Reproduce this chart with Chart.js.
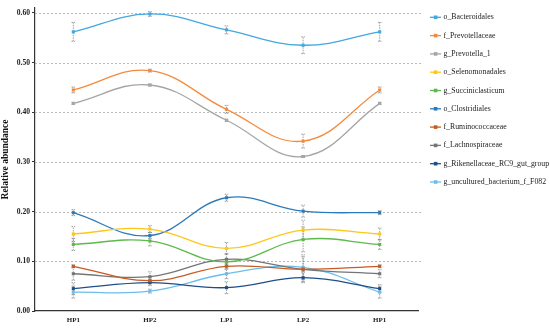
<!DOCTYPE html>
<html>
<head>
<meta charset="utf-8">
<script src="https://cdn.jsdelivr.net/npm/chart.js@4.4.1/dist/chart.umd.min.js"></script>
<style>
html,body{margin:0;padding:0;background:#fff;}
#wrap{width:550px;height:328px;position:relative;}
</style>
</head>
<body>
<div id="wrap"><canvas id="c"></canvas></div>
<script>
const categories = ['HP1', 'HP2', 'LP1', 'LP2', 'HP1'];
const seriesNames = ['o_Bacteroidales', 'f_Prevotellaceae', 'g_Prevotella_1', 'o_Selenomonadales', 'g_Succiniclasticum', 'o_Clostridiales', 'f_Ruminococcaceae', 'f_Lachnospiraceae', 'g_Rikenellaceae_RC9_gut_group', 'g_uncultured_bacterium_f_F082'];
const seriesColors = ['#41A8E0', '#F68A3C', '#A6A6A6', '#FFC61A', '#5DB94B', '#2B7BBA', '#C75B21', '#757575', '#1F4E89', '#6DBDEB'];

const bacteroidales = [0.562, 0.598, 0.566, 0.535, 0.562];
const prevotellaceae = [0.445, 0.484, 0.406, 0.342, 0.445];
const prevotella1 = [0.418, 0.455, 0.384, 0.311, 0.418];
const selenomonadales = [0.155, 0.165, 0.126, 0.163, 0.155];
const succiniclasticum = [0.134, 0.141, 0.099, 0.144, 0.134];
const clostridiales = [0.198, 0.152, 0.228, 0.201, 0.198];
const ruminococcaceae = [0.090, 0.061, 0.090, 0.084, 0.090];
const lachnospiraceae = [0.075, 0.069, 0.104, 0.084, 0.075];
const rikenellaceaeRC9 = [0.045, 0.057, 0.047, 0.067, 0.045];
const ffo82 = [0.038, 0.040, 0.075, 0.088, 0.038];

const errBacteroidales = [0.019, 0.005, 0.008, 0.017, 0.019];
const errPrevotellaceae = [0.006, 0.003, 0.008, 0.014, 0.006];
const errPrevotella1 = [0.002, 0.002, 0.002, 0.002, 0.002];
const errSelenomonadales = [0.015, 0.007, 0.012, 0.020, 0.012];
const errSucciniclasticum = [0.012, 0.010, 0.006, 0.025, 0.010];
const errClostridiales = [0.006, 0.006, 0.007, 0.012, 0.004];
const errRuminococcaceae = [0.003, 0.006, 0.006, 0.004, 0.003];
const errLachnospiraceae = [0.013, 0.010, 0.012, 0.025, 0.008];
const errRikenellaceaeRC9 = [0.012, 0.006, 0.012, 0.010, 0.008];
const errF082 = [0.012, 0.004, 0.010, 0.025, 0.012];

const yTicks = [0.0, 0.1, 0.2, 0.3, 0.4, 0.5, 0.6];

const allValues = [bacteroidales, prevotellaceae, prevotella1, selenomonadales, succiniclasticum, clostridiales, ruminococcaceae, lachnospiraceae, rikenellaceaeRC9, ffo82];
const allErrors = [errBacteroidales, errPrevotellaceae, errPrevotella1, errSelenomonadales, errSucciniclasticum, errClostridiales, errRuminococcaceae, errLachnospiraceae, errRikenellaceaeRC9, errF082];

const datasets = seriesNames.map((n, i) => ({
  label: n,
  data: allValues[i],
  errors: allErrors[i],
  borderColor: seriesColors[i],
  backgroundColor: seriesColors[i],
  borderWidth: 1.3,
  pointStyle: 'rect',
  pointRadius: 2.2,
  pointBorderWidth: 0,
  tension: 0.4,
  fill: false
}));

const errorBarPlugin = {
  id: 'errorBars',
  beforeDatasetsDraw(chart) {
    const ctx = chart.ctx;
    const xs = chart.scales.x, ys = chart.scales.y;
    ctx.save();
    ctx.strokeStyle = 'rgba(110,110,110,0.75)';
    ctx.lineWidth = 0.9;
    ctx.setLineDash([1.5, 1]);
    chart.data.datasets.forEach(ds => {
      ds.data.forEach((v, j) => {
        const e = ds.errors[j];
        const x = xs.getPixelForValue(j);
        const y1 = ys.getPixelForValue(v - e), y2 = ys.getPixelForValue(v + e);
        ctx.beginPath();
        ctx.moveTo(x, y1); ctx.lineTo(x, y2);
        ctx.moveTo(x - 1.8, y1); ctx.lineTo(x + 1.8, y1);
        ctx.moveTo(x - 1.8, y2); ctx.lineTo(x + 1.8, y2);
        ctx.stroke();
      });
    });
    ctx.restore();
  }
};

const legendPlugin = {
  id: 'customLegend',
  afterDraw(chart) {
    const ctx = chart.ctx;
    ctx.save();
    ctx.font = '7.8px "Liberation Serif"';
    ctx.textBaseline = 'middle';
    ctx.fillStyle = '#222';
    chart.data.datasets.forEach((ds, i) => {
      const y = 17.3 + i * 18.3;
      ctx.strokeStyle = ds.borderColor;
      ctx.lineWidth = 1.3;
      ctx.beginPath(); ctx.moveTo(430, y); ctx.lineTo(441, y); ctx.stroke();
      ctx.fillStyle = ds.borderColor;
      ctx.fillRect(433.8, y - 1.8, 3.6, 3.6);
      ctx.fillStyle = '#222';
      ctx.fillText(ds.label, 443.5, y);
    });
    ctx.restore();
  }
};

const gridPlugin = {
  id: 'gridExt',
  beforeDatasetsDraw(chart) {
    const ctx = chart.ctx;
    const ys = chart.scales.y;
    ctx.save();
    ctx.strokeStyle = '#A8A8A8';
    ctx.lineWidth = 0.8;
    ctx.setLineDash([2, 2]);
    yTicks.forEach(t => {
      if (t === 0) return;
      const y = Math.round(ys.getPixelForValue(t)) + 0.5;
      ctx.beginPath(); ctx.moveTo(chart.chartArea.left, y); ctx.lineTo(421, y); ctx.stroke();
    });
    ctx.restore();
  }
};

new Chart(document.getElementById('c'), {
  type: 'line',
  data: { labels: categories, datasets },
  plugins: [gridPlugin, errorBarPlugin, legendPlugin],
  options: {
    responsive: true,
    maintainAspectRatio: false,
    animation: false,
    layout: { padding: { top: 8, right: 132, left: 0, bottom: 0 } },
    plugins: { legend: { display: false }, tooltip: { enabled: false } },
    scales: {
      x: {
        offset: true,
        grid: { display: false, drawTicks: true, tickLength: 3, color: '#333' },
        border: { display: true, color: '#333', width: 1.2 },
        ticks: { color: '#222', font: { family: 'Liberation Serif', size: 7, weight: 'bold' }, padding: 2, maxRotation: 0 },
        afterFit(s) { s.height = 17; }
      },
      y: {
        min: 0, max: 0.61,
        afterBuildTicks(s) { s.ticks = yTicks.map(v => ({ value: v })); },
        grid: { display: true, drawOnChartArea: false, drawTicks: true, tickLength: 3, color: '#333' },
        border: { display: true, color: '#333', width: 1.2 },
        ticks: { color: '#222', font: { family: 'Liberation Serif', size: 7.6, weight: 'bold' }, padding: 2, callback: v => Number(v).toFixed(2) },
        title: { display: true, text: 'Relative abundance', color: '#111', font: { family: 'Liberation Serif', size: 9.5, weight: 'bold' }, padding: { top: 0, bottom: 2 } },
        afterFit(s) { s.width = 35; }
      }
    }
  }
});
</script>
</body>
</html>
